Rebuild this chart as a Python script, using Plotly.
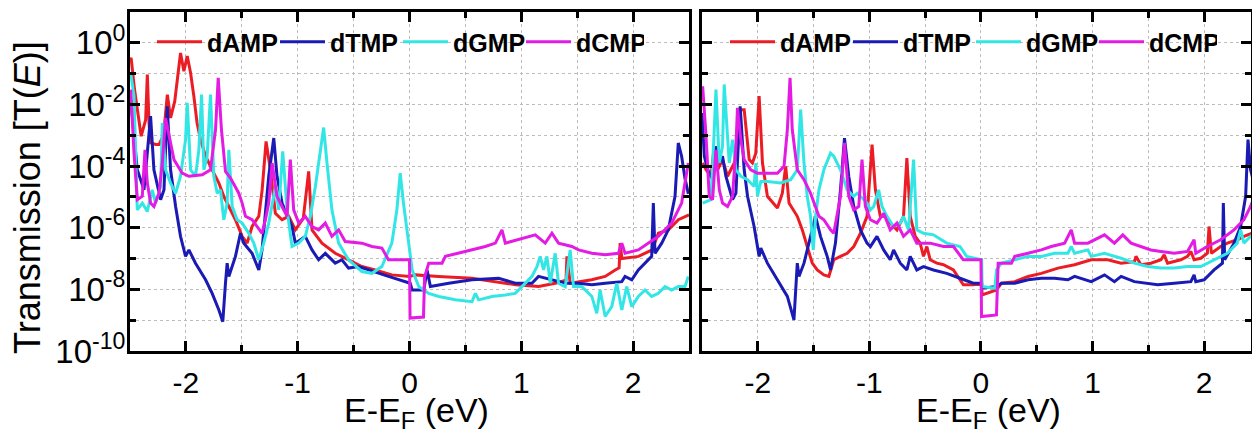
import plotly.graph_objects as go

# ---------------- data (E - E_F in eV, log10 of transmission) ----------------
# left panel
E_AMP_L = [-2.50,-2.49,-2.46,-2.40,-2.36,-2.345,-2.33,-2.315,-2.27,-2.24,-2.20,-2.166,-2.137,-2.10,-2.048,-2.018,-1.988,-1.958,-1.929,-1.90,-1.869,-1.824,-1.765,-1.705,-1.661,-1.616,-1.557,-1.497,-1.452,-1.408,-1.348,-1.318,-1.283,-1.244,-1.20,-1.14,-1.08,-1.021,-0.95,-0.902,-0.872,-0.783,-0.664,-0.545,-0.426,-0.307,-0.158,0.0,0.054,0.26,0.56,0.95,1.155,1.304,1.40,1.408,1.437,1.63,1.75,1.84,1.875,1.884,1.90,2.048,2.17,2.226,2.315,2.405,2.5]
LOG_AMP_L = [-0.55,-0.49,-1.5,-3.03,-2.5,-1.03,-2.6,-3.25,-3.30,-3.30,-3.0,-1.68,-2.44,-1.9,-0.33,-0.92,-0.43,-0.98,-1.73,-2.6,-3.14,-3.68,-4.12,-4.55,-4.98,-5.31,-5.74,-6.28,-6.5,-5.96,-5.63,-4.77,-3.2,-4.12,-5.53,-5.74,-5.63,-6.07,-5.7,-4.17,-6.07,-6.5,-6.83,-7.04,-7.26,-7.37,-7.53,-7.58,-7.53,-7.58,-7.64,-7.85,-7.91,-7.8,-7.7,-6.93,-7.8,-7.69,-7.58,-7.37,-7.3,-6.5,-7.0,-6.93,-6.72,-6.18,-6.07,-5.74,-5.58]

E_TMP_L = [-2.50,-2.435,-2.375,-2.316,-2.286,-2.226,-2.196,-2.167,-2.137,-2.092,-2.048,-2.003,-1.973,-1.914,-1.824,-1.765,-1.705,-1.670,-1.646,-1.631,-1.616,-1.557,-1.512,-1.482,-1.408,-1.348,-1.319,-1.259,-1.214,-1.185,-1.140,-1.051,-1.021,-0.932,-0.872,-0.813,-0.753,-0.664,-0.604,-0.545,-0.455,-0.366,-0.188,0.006,0.024,0.128,0.157,0.187,0.262,0.351,0.559,0.797,0.946,1.095,1.154,1.214,1.393,1.512,1.631,1.750,1.899,1.928,1.988,2.047,2.107,2.166,2.181,2.196,2.256,2.315,2.375,2.404,2.434,2.464,2.494]
LOG_TMP_L = [-1.6,-4.12,-4.77,-2.38,-4.12,-5.09,-4.77,-2.06,-4.12,-5.31,-6.28,-6.93,-6.72,-7.15,-7.69,-8.13,-8.67,-9.05,-7.80,-7.15,-7.58,-6.93,-6.18,-6.50,-6.83,-7.37,-6.72,-4.33,-3.09,-4.33,-5.20,-5.96,-6.50,-6.28,-6.72,-7.04,-6.83,-7.15,-7.04,-7.31,-7.26,-7.37,-7.58,-7.80,-8.02,-8.02,-7.37,-7.91,-7.85,-7.80,-7.69,-7.64,-7.80,-7.80,-7.58,-7.64,-7.80,-7.80,-7.85,-7.80,-7.75,-7.58,-7.69,-7.37,-7.15,-6.93,-5.20,-6.83,-6.50,-6.07,-4.98,-3.25,-3.68,-4.4,-4.9]

E_GMP_L = [-2.494,-2.464,-2.435,-2.390,-2.345,-2.301,-2.271,-2.226,-2.211,-2.182,-2.137,-2.092,-2.048,-2.003,-1.988,-1.958,-1.914,-1.884,-1.860,-1.839,-1.810,-1.780,-1.750,-1.720,-1.691,-1.661,-1.631,-1.616,-1.586,-1.542,-1.497,-1.438,-1.393,-1.348,-1.304,-1.259,-1.199,-1.170,-1.134,-1.095,-1.051,-0.991,-0.932,-0.887,-0.842,-0.798,-0.768,-0.738,-0.694,-0.634,-0.545,-0.426,-0.336,-0.247,-0.158,-0.113,-0.083,-0.054,-0.009,0.024,0.083,0.172,0.262,0.410,0.559,0.589,0.619,0.738,0.857,0.946,1.006,1.095,1.140,1.169,1.199,1.229,1.259,1.303,1.333,1.393,1.437,1.467,1.541,1.631,1.675,1.705,1.750,1.809,1.854,1.899,1.943,1.988,2.047,2.107,2.166,2.226,2.285,2.345,2.404,2.464,2.494]
LOG_GMP_L = [-0.98,-1.73,-5.42,-5.20,-5.47,-4.77,-5.20,-4.66,-2.60,-4.12,-4.55,-4.88,-4.33,-3.14,-1.95,-4.12,-4.33,-3.47,-1.68,-4.12,-3.68,-1.68,-4.33,-4.88,-4.77,-5.74,-5.20,-3.47,-5.31,-5.74,-5.85,-6.18,-6.50,-7.04,-6.50,-5.85,-4.66,-5.42,-3.52,-5.42,-6.61,-6.50,-6.28,-5.63,-4.66,-3.47,-2.75,-3.90,-5.42,-6.50,-7.04,-7.42,-7.48,-7.26,-6.50,-5.42,-4.23,-5.20,-6.50,-7.37,-7.91,-8.13,-8.23,-8.34,-8.40,-8.13,-8.34,-8.23,-8.18,-8.13,-7.91,-7.58,-7.26,-6.93,-7.37,-6.93,-7.80,-6.83,-7.80,-7.91,-6.72,-7.91,-7.91,-8.23,-8.78,-8.02,-8.88,-8.56,-7.80,-8.67,-7.91,-8.56,-8.23,-8.02,-8.23,-8.13,-7.91,-8.02,-7.91,-7.91,-7.58]

E_CMP_L = [-2.494,-2.464,-2.435,-2.390,-2.366,-2.345,-2.316,-2.286,-2.241,-2.211,-2.182,-2.152,-2.107,-2.033,-1.973,-1.854,-1.780,-1.735,-1.711,-1.682,-1.646,-1.601,-1.557,-1.527,-1.497,-1.467,-1.408,-1.363,-1.319,-1.289,-1.259,-1.229,-1.185,-1.140,-1.095,-1.066,-1.036,-0.991,-0.932,-0.872,-0.813,-0.753,-0.694,-0.634,-0.575,-0.426,-0.336,-0.247,-0.188,0.0,0.005,0.125,0.135,0.172,0.291,0.321,0.440,0.559,0.678,0.768,0.827,0.857,0.976,1.095,1.125,1.214,1.274,1.333,1.452,1.512,1.631,1.750,1.869,1.899,1.928,2.047,2.137,2.226,2.345,2.434,2.494]
LOG_CMP_L = [-1.52,-3.58,-5.09,-4.98,-3.47,-4.55,-5.20,-5.31,-4.88,-3.90,-2.44,-3.03,-3.79,-4.23,-4.33,-4.28,-4.12,-2.82,-1.14,-2.82,-4.17,-4.39,-4.66,-4.88,-5.20,-5.63,-5.74,-5.96,-6.18,-5.74,-5.20,-3.90,-4.98,-5.31,-5.63,-3.79,-5.42,-5.85,-5.63,-5.96,-6.07,-5.85,-6.28,-6.07,-6.45,-6.50,-6.61,-6.66,-7.04,-7.04,-8.93,-8.90,-7.6,-7.15,-7.15,-6.93,-6.83,-6.72,-6.61,-6.50,-6.07,-6.50,-6.39,-6.28,-6.23,-6.50,-6.18,-6.50,-6.61,-6.72,-6.83,-6.88,-6.83,-6.50,-6.83,-6.72,-6.50,-6.28,-5.85,-5.20,-3.90]

# right panel
E_AMP_R = [-2.494,-2.464,-2.420,-2.390,-2.360,-2.316,-2.271,-2.211,-2.152,-2.122,-2.077,-2.048,-2.018,-1.988,-1.958,-1.914,-1.824,-1.780,-1.750,-1.720,-1.646,-1.601,-1.557,-1.512,-1.467,-1.408,-1.363,-1.319,-1.259,-1.199,-1.140,-1.080,-1.021,-0.997,-0.976,-0.946,-0.902,-0.857,-0.813,-0.753,-0.694,-0.664,-0.634,-0.589,-0.545,-0.515,-0.485,-0.455,-0.396,-0.336,-0.247,-0.158,-0.069,0.006,0.01,0.139,0.184,0.303,0.422,0.541,0.690,0.839,0.988,1.136,1.256,1.375,1.389,1.434,1.523,1.613,1.642,1.672,1.791,1.851,1.881,1.910,1.970,2.029,2.044,2.065,2.148,2.208,2.297,2.357,2.416,2.45]
LOG_AMP_R = [-3.90,-4.12,-4.33,-3.36,-4.12,-3.79,-4.33,-3.90,-2.17,-2.17,-3.79,-3.90,-3.58,-1.73,-3.90,-4.98,-5.36,-4.88,-4.01,-5.20,-5.63,-6.07,-6.61,-7.15,-7.37,-7.53,-7.58,-7.04,-6.93,-6.83,-6.61,-6.18,-5.63,-4.33,-3.30,-4.77,-5.63,-5.63,-5.85,-6.07,-5.63,-3.74,-5.63,-6.28,-6.50,-6.93,-6.61,-7.04,-7.15,-7.20,-7.37,-7.85,-7.85,-7.80,-8.18,-8.02,-7.80,-7.75,-7.58,-7.48,-7.31,-7.20,-7.04,-7.04,-7.15,-7.10,-6.93,-7.20,-7.15,-7.04,-6.88,-7.15,-7.04,-6.93,-6.77,-7.04,-6.99,-6.83,-5.96,-6.83,-6.61,-6.50,-6.39,-6.28,-6.18,-6.15]

E_TMP_R = [-2.50,-2.479,-2.449,-2.405,-2.375,-2.345,-2.316,-2.286,-2.226,-2.196,-2.158,-2.122,-2.092,-2.033,-1.988,-1.973,-1.914,-1.824,-1.735,-1.676,-1.646,-1.631,-1.586,-1.527,-1.482,-1.438,-1.378,-1.348,-1.304,-1.259,-1.223,-1.185,-1.140,-1.080,-1.021,-0.991,-0.932,-0.872,-0.813,-0.783,-0.723,-0.664,-0.634,-0.575,-0.515,-0.426,-0.307,-0.188,-0.069,0.006,0.01,0.139,0.184,0.303,0.422,0.541,0.660,0.779,0.839,0.988,1.107,1.196,1.256,1.375,1.494,1.583,1.732,1.881,1.910,1.925,2.000,2.089,2.164,2.172,2.184,2.268,2.327,2.372,2.393,2.416,2.45]
LOG_TMP_R = [-2.28,-3.68,-4.12,-4.44,-3.36,-3.90,-3.68,-4.33,-5.09,-4.88,-2.06,-4.12,-4.98,-5.96,-6.93,-6.66,-7.15,-7.69,-8.23,-8.99,-7.15,-7.58,-7.15,-6.28,-5.63,-6.28,-6.93,-7.37,-6.50,-4.77,-3.09,-4.33,-5.31,-6.07,-6.50,-6.61,-6.28,-6.72,-7.04,-6.72,-7.15,-7.37,-6.93,-7.37,-7.26,-7.37,-7.48,-7.64,-7.80,-7.80,-7.96,-7.91,-7.80,-7.80,-7.69,-7.64,-7.64,-7.69,-7.58,-7.75,-7.53,-7.75,-7.58,-7.75,-7.80,-7.85,-7.80,-7.75,-7.53,-7.75,-7.69,-7.37,-7.15,-5.20,-7.04,-6.50,-5.96,-4.98,-3.14,-4.12,-4.6]

E_GMP_R = [-2.494,-2.420,-2.390,-2.375,-2.345,-2.316,-2.301,-2.256,-2.226,-2.196,-2.152,-2.092,-2.033,-2.018,-2.003,-1.973,-1.914,-1.795,-1.705,-1.646,-1.616,-1.586,-1.557,-1.527,-1.503,-1.482,-1.452,-1.408,-1.348,-1.319,-1.259,-1.199,-1.140,-1.110,-1.080,-1.021,-0.991,-0.961,-0.917,-0.887,-0.842,-0.783,-0.723,-0.694,-0.649,-0.604,-0.575,-0.515,-0.426,-0.307,-0.188,-0.128,0.006,0.01,0.125,0.139,0.184,0.303,0.422,0.541,0.660,0.779,0.809,0.839,0.958,0.988,1.107,1.256,1.375,1.494,1.613,1.732,1.851,1.970,2.089,2.208,2.297,2.327,2.357,2.416,2.45]
LOG_GMP_R = [-5.20,-5.09,-2.82,-1.52,-3.90,-3.36,-1.35,-3.90,-3.14,-4.12,-4.33,-4.44,-4.66,-3.90,-4.98,-4.50,-4.50,-4.55,-4.44,-4.12,-2.17,-3.90,-4.98,-5.63,-6.72,-5.63,-4.77,-4.12,-3.58,-3.68,-4.12,-4.77,-4.98,-4.88,-4.98,-5.20,-5.42,-5.31,-4.77,-5.31,-5.63,-5.96,-5.85,-5.63,-6.07,-3.79,-6.07,-6.18,-6.23,-6.50,-6.61,-6.93,-7.04,-7.91,-7.96,-7.37,-7.15,-7.04,-6.93,-6.93,-6.83,-6.83,-6.61,-6.83,-6.72,-6.93,-6.83,-6.99,-7.15,-7.26,-7.31,-7.31,-7.26,-7.26,-7.04,-6.83,-6.50,-6.07,-6.50,-6.28,-6.2]

E_CMP_R = [-2.494,-2.464,-2.435,-2.405,-2.375,-2.345,-2.316,-2.271,-2.226,-2.196,-2.182,-2.152,-2.122,-2.063,-2.003,-1.824,-1.765,-1.735,-1.711,-1.691,-1.646,-1.586,-1.527,-1.497,-1.452,-1.408,-1.348,-1.319,-1.289,-1.259,-1.223,-1.185,-1.140,-1.095,-1.066,-1.036,-0.991,-0.932,-0.872,-0.813,-0.753,-0.694,-0.634,-0.575,-0.455,-0.336,-0.247,-0.158,0.0,0.005,0.139,0.154,0.273,0.303,0.422,0.541,0.630,0.750,0.809,0.839,0.958,1.107,1.196,1.271,1.345,1.434,1.523,1.613,1.732,1.851,1.910,1.925,2.029,2.148,2.268,2.357,2.416,2.45]
LOG_CMP_R = [-1.41,-3.03,-4.98,-5.09,-3.47,-4.77,-5.20,-5.31,-4.98,-3.36,-2.11,-3.14,-3.79,-4.12,-4.23,-4.23,-4.01,-2.82,-1.14,-2.82,-4.12,-4.44,-4.88,-5.20,-5.63,-5.74,-6.07,-6.18,-5.63,-4.98,-3.25,-4.98,-5.42,-5.31,-3.79,-5.31,-5.74,-5.85,-5.53,-6.07,-5.85,-6.28,-6.07,-6.50,-6.50,-6.61,-6.61,-7.04,-7.04,-8.88,-8.83,-7.15,-7.15,-6.93,-6.83,-6.72,-6.61,-6.50,-6.07,-6.50,-6.50,-6.23,-6.50,-6.23,-6.50,-6.61,-6.72,-6.77,-6.83,-6.77,-6.39,-6.83,-6.61,-6.39,-6.07,-5.74,-5.31,-5.0]

SERIES = ["dAMP", "dTMP", "dGMP", "dCMP"]
COLORS = {"dAMP": "#ec1c24", "dTMP": "#1a1ab4", "dGMP": "#33e6e6", "dCMP": "#e31be3"}
X_TICKS = [-2, -1, 0, 1, 2]
X_MINOR = [-2.5, -1.5, -0.5, 0.5, 1.5, 2.5]
Y_EXP = [0, -2, -4, -6, -8, -10]
Y_MINOR_EXP = [1, -1, -3, -5, -7, -9]

LEFT = {"dAMP": (E_AMP_L, LOG_AMP_L), "dTMP": (E_TMP_L, LOG_TMP_L),
        "dGMP": (E_GMP_L, LOG_GMP_L), "dCMP": (E_CMP_L, LOG_CMP_L)}
RIGHT = {"dAMP": (E_AMP_R, LOG_AMP_R), "dTMP": (E_TMP_R, LOG_TMP_R),
         "dGMP": (E_GMP_R, LOG_GMP_R), "dCMP": (E_CMP_R, LOG_CMP_R)}

FONT = "Liberation Sans, Arial, sans-serif"
W, H = 1252, 435

fig = go.Figure()
for panel, (xa, ya, lg) in ((LEFT, ("x", "y", "legend")), (RIGHT, ("x2", "y2", "legend2"))):
    for name in SERIES:
        ex, lv = panel[name]
        fig.add_trace(go.Scatter(
            x=ex, y=[10 ** v for v in lv], mode="lines", name=name,
            line=dict(color=COLORS[name], width=3),
            xaxis=xa, yaxis=ya, legend=lg))


def px_x(p):
    return p / W


def px_y(p):
    return 1 - p / H


GRID = dict(showgrid=True, gridcolor="#bdbdbd", griddash="dot", gridwidth=1)
common_x = dict(
    range=[-2.5, 2.5], tickvals=X_TICKS, ticktext=[str(v) if v >= 0 else "-" + str(-v) for v in X_TICKS],
    ticks="inside", ticklen=10, tickwidth=3, tickcolor="black",
    showline=True, linewidth=3, linecolor="black", mirror="ticks",
    minor=dict(tickvals=X_MINOR, ticks="inside", ticklen=6, tickwidth=3, tickcolor="black", **GRID),
    tickfont=dict(family=FONT, size=30, color="black"),
    zeroline=False, ticklabelstandoff=3, automargin=False, **GRID,
)
common_y = dict(
    type="log", range=[-10, 1],
    tickvals=[10.0 ** e for e in Y_EXP],
    ticktext=["10<sup>%d</sup>" % e for e in Y_EXP],
    ticks="inside", ticklen=10, tickwidth=3, tickcolor="black",
    showline=True, linewidth=3, linecolor="black", mirror="ticks",
    minor=dict(tickvals=[10.0 ** e for e in Y_MINOR_EXP], ticks="inside", ticklen=6, tickwidth=3,
               tickcolor="black", **GRID),
    tickfont=dict(family=FONT, size=33, color="black"),
    zeroline=False, automargin=False, **GRID,
)

LEG = dict(orientation="h", yanchor="middle",
           bgcolor="rgba(0,0,0,0)", borderwidth=0, itemwidth=45,
           entrywidth=63, entrywidthmode="pixels",
           font=dict(family=FONT, size=25, color="black", weight="bold"))

fig.update_layout(
    width=W, height=H, autosize=False,
    margin=dict(l=0, r=0, t=0, b=0, pad=0),
    paper_bgcolor="white", plot_bgcolor="white",
    xaxis=dict(domain=[px_x(130), px_x(689)], anchor="y", **common_x),
    yaxis=dict(domain=[px_y(351), px_y(12)], anchor="x", ticklabelstandoff=-5, **common_y),
    xaxis2=dict(domain=[px_x(702), px_x(1251)], anchor="y2", **{**common_x, "range": [-2.5, 2.42]}),
    yaxis2=dict(domain=[px_y(351), px_y(12)], anchor="x2", showticklabels=False, **common_y),
    legend=dict(x=px_x(152), y=px_y(42), xanchor="left", **LEG),
    legend2=dict(x=px_x(1217), y=px_y(42), xanchor="right", **LEG),
    showlegend=True,
)

# axis titles
fig.add_annotation(text="Transmission [T(<i>E</i>)]", x=px_x(27), y=px_y(198), xref="paper", yref="paper",
                   textangle=-90, showarrow=False, xanchor="center", yanchor="middle",
                   font=dict(family=FONT, size=36, color="black"))
for cx in (416, 988):
    fig.add_annotation(text="E-E<sub>F</sub> (eV)", x=px_x(cx), y=px_y(412), xref="paper", yref="paper",
                       showarrow=False, xanchor="center", yanchor="middle",
                       font=dict(family=FONT, size=34, color="black"))

# page body has a default 8px margin; remove it so the figure sits at the window origin
fig.write_html("out.html", config={"displayModeBar": False},
               post_script="document.body.style.margin='0px';")
